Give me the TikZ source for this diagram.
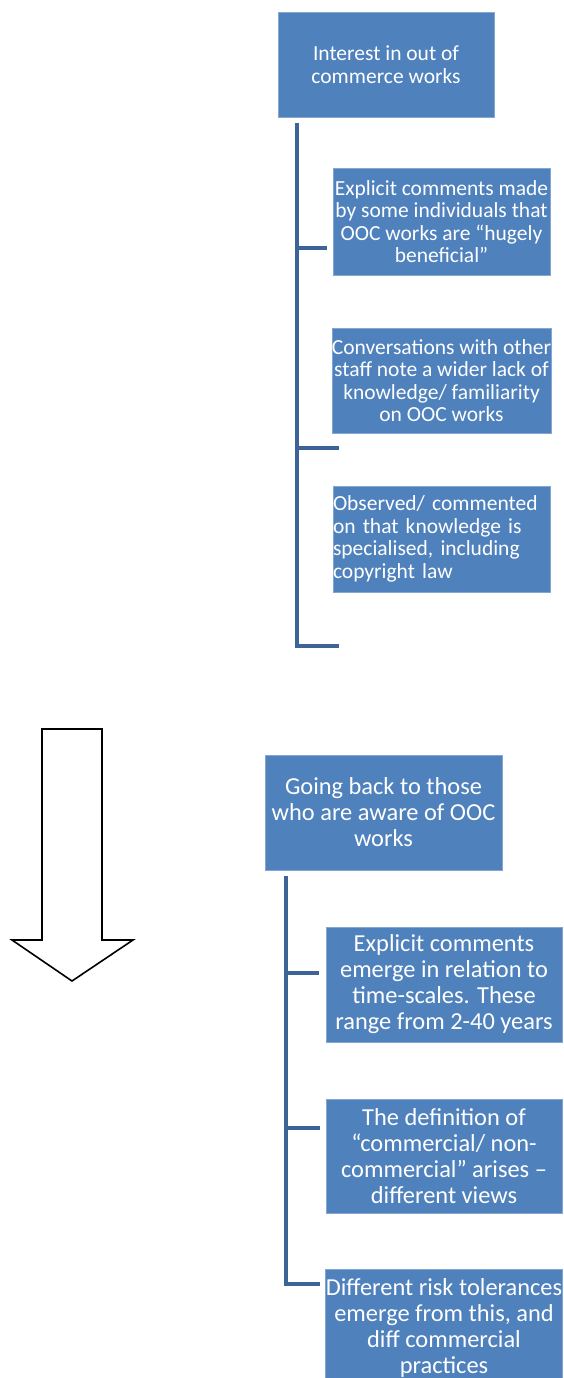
\documentclass[tikz,border=0pt]{standalone}
\usepackage{fontspec}
\setmainfont{Carlito}
\usetikzlibrary{positioning}
\definecolor{boxblue}{RGB}{79,129,189}
\definecolor{lineblue}{RGB}{60,100,150}
\newcommand{\smalltext}{\fontsize{21.5}{22.5}\selectfont}
\newcommand{\bigtext}{\fontsize{24.4}{26}\selectfont}
\tikzset{
  topicbox/.style={draw=boxblue!70!white, fill=boxblue, text=white, inner sep=0pt,
    align=center, line width=0.8pt},
  treeline/.style={draw=lineblue, line width=4pt},
}

\begin{document}
\begin{tikzpicture}[x=1pt, y=-1pt]
				\useasboundingbox (0,0) rectangle (564,1378);
				\fill[white] (0,0) rectangle (564,1378);

				% first tree
				\node[topicbox, minimum width=216, minimum height=105, font=\smalltext] (interest) at (386,64.5)
					{Interest in out of\\commerce works};
				\node[topicbox, minimum width=217, minimum height=107, font=\smalltext] (explicit) at (441.5,221.5)
					{Explicit comments made\\by some individuals that\\OOC works are “hugely\\beneficial”};
				\node[topicbox, minimum width=217, minimum height=105, font=\smalltext] (conversations) at (441.5,380.5)
					{Conversations with other\\staff note a wider lack of\\knowledge/ familiarity\\on OOC works};
				\node[topicbox, minimum width=217, minimum height=106, font=\smalltext, align=left, text width=217] (observed) at (441.5,539)
					{Observed/ commented\\on that knowledge is\\specialised, including\\copyright law};

				\coordinate (treeatop) at (297,123);
				\coordinate (branchaa) at (327,248);
				\coordinate (branchab) at (339,448);
				\coordinate (branchac) at (339,646);
				\draw[treeline] (treeatop) |- (branchac);
				\draw[treeline] (branchaa -| treeatop) -- (branchaa);
				\draw[treeline] (branchab -| treeatop) -- (branchab);

				% arrow
				\draw[line width=1.6pt, fill=white] (42,729) -- (102,729) -- (102,940) -- (133,940)
					-- (72,981) -- (12,940) -- (42,940) -- cycle;

				% second tree
				\node[topicbox, minimum width=237, minimum height=115, font=\bigtext] (goingback) at (383.5,812.5)
					{Going back to those\\who are aware of OOC\\works};
				\node[topicbox, minimum width=236, minimum height=115, font=\bigtext] (timescales) at (444,984.5)
					{Explicit comments\\emerge in relation to\\time-scales. These\\range from 2-40 years};
				\node[topicbox, minimum width=236, minimum height=114, font=\bigtext] (definition) at (444,1156)
					{The definition of\\“commercial/ non-\\commercial” arises –\\different views};
				\node[topicbox, minimum width=236, minimum height=117, font=\bigtext] (risk) at (444,1327.5)
					{Different risk tolerances\\emerge from this, and\\diff commercial\\practices};

				\coordinate (treebtop) at (286,876);
				\coordinate (branchba) at (319,973);
				\coordinate (branchbb) at (320,1128);
				\coordinate (branchbc) at (320,1284);
				\draw[treeline] (treebtop) |- (branchbc);
				\draw[treeline] (branchba -| treebtop) -- (branchba);
				\draw[treeline] (branchbb -| treebtop) -- (branchbb);

\end{tikzpicture}
\end{document}
